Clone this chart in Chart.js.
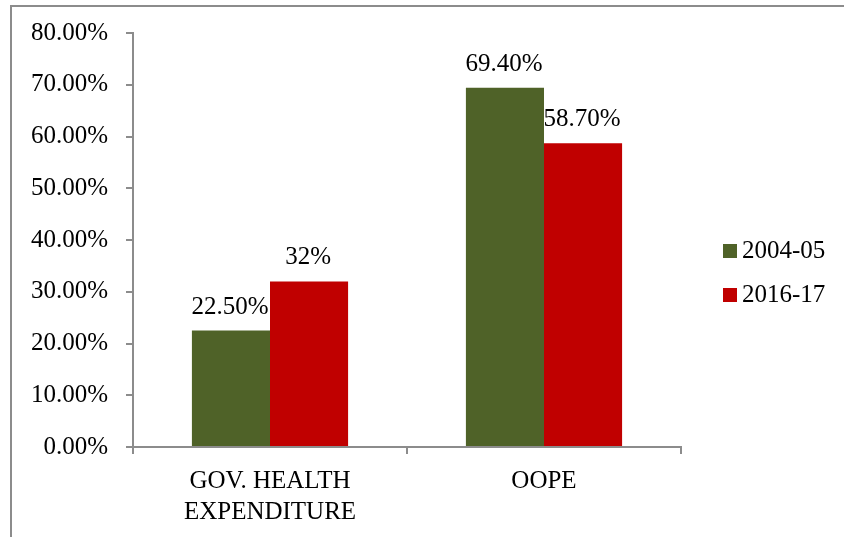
<!DOCTYPE html>
<html>
<head>
<meta charset="utf-8">
<script src="https://cdn.jsdelivr.net/npm/chart.js@4/dist/chart.umd.min.js"></script>
<style>
  html, body { margin: 0; padding: 0; background: #fff; }
  #wrap { position: relative; width: 844px; height: 537px; overflow: hidden; }
  #frame {
    position: absolute; left: 10px; top: 5px; width: 900px; height: 600px;
    border-top: 2px solid #8c8c8c; border-left: 2px solid #8c8c8c;
  }
  #chart { position: absolute; left: 0; top: 0; }
</style>
</head>
<body>
<div id="wrap">
  <div id="frame"></div>
  <canvas id="chart" width="844" height="537"></canvas>
</div>
<script>
// ── Data ──────────────────────────────────────────────
const categories = [['GOV. HEALTH', 'EXPENDITURE'], 'OOPE']
const series2004 = [22.5, 69.4]
const series2016 = [32, 58.7]
const labels2004 = ['22.50%', '69.40%']
const labels2016 = ['32%', '58.70%']
const yTicks = [0, 10, 20, 30, 40, 50, 60, 70, 80]

const FONT = { family: "'Liberation Serif', 'Times New Roman', serif", size: 25 }
const AXIS_GRAY = '#8c8c8c'

// ── Value labels above bars ───────────────────────────
const valueLabels = {
  id: 'valueLabels',
  afterDatasetsDraw(chart) {
    const ctx = chart.ctx
    ctx.save()
    ctx.font = `${FONT.size}px ${FONT.family}`
    ctx.fillStyle = '#000'
    ctx.textAlign = 'center'
    ctx.textBaseline = 'alphabetic'
    chart.data.datasets.forEach((ds, i) => {
      chart.getDatasetMeta(i).data.forEach((bar, j) => {
        ctx.fillText(ds.valueText[j], bar.x - 1, bar.y - 17)
      })
    })
    ctx.restore()
  }
}

// ── Side legend ───────────────────────────────────────
const sideLegend = {
  id: 'sideLegend',
  afterDraw(chart) {
    const ctx = chart.ctx
    const x = chart.chartArea.right + 42
    ctx.save()
    ctx.font = `${FONT.size}px ${FONT.family}`
    ctx.textBaseline = 'alphabetic'
    chart.data.datasets.forEach((ds, i) => {
      const top = 244 + i * 44
      ctx.fillStyle = ds.backgroundColor
      ctx.fillRect(x, top, 14, 14)
      ctx.fillStyle = '#000'
      ctx.fillText(ds.label, x + 19, top + 14)
    })
    ctx.restore()
  }
}

new Chart(document.getElementById('chart'), {
  type: 'bar',
  data: {
    labels: categories,
    datasets: [
      { label: '2004-05', data: series2004, valueText: labels2004, backgroundColor: '#4f6228' },
      { label: '2016-17', data: series2016, valueText: labels2016, backgroundColor: '#c00000' }
    ]
  },
  options: {
    responsive: false,
    animation: false,
    layout: { padding: { top: 33, right: 163, bottom: 0, left: 0 } },
    datasets: { bar: { barPercentage: 1, categoryPercentage: 0.57 } },
    plugins: {
      legend: { display: false },
      tooltip: { enabled: false }
    },
    scales: {
      x: {
        grid: { drawOnChartArea: false, tickLength: 7, color: AXIS_GRAY, lineWidth: 2, offset: true },
        border: { color: AXIS_GRAY, width: 2 },
        ticks: { color: '#000', font: { ...FONT, lineHeight: 1.24 }, padding: 12, maxRotation: 0 },
        afterFit(scale) { scale.height = 90 }
      },
      y: {
        min: 0,
        max: 80,
        afterBuildTicks(scale) { scale.ticks = yTicks.map(v => ({ value: v })) },
        grid: { drawOnChartArea: false, tickLength: 7, color: AXIS_GRAY, lineWidth: 2 },
        border: { color: AXIS_GRAY, width: 2 },
        ticks: {
          color: '#000',
          font: FONT,
          padding: 18,
          callback: v => v.toFixed(2) + '%'
        },
        afterFit(scale) { scale.width = 133 }
      }
    }
  },
  plugins: [valueLabels, sideLegend]
})
</script>
</body>
</html>
